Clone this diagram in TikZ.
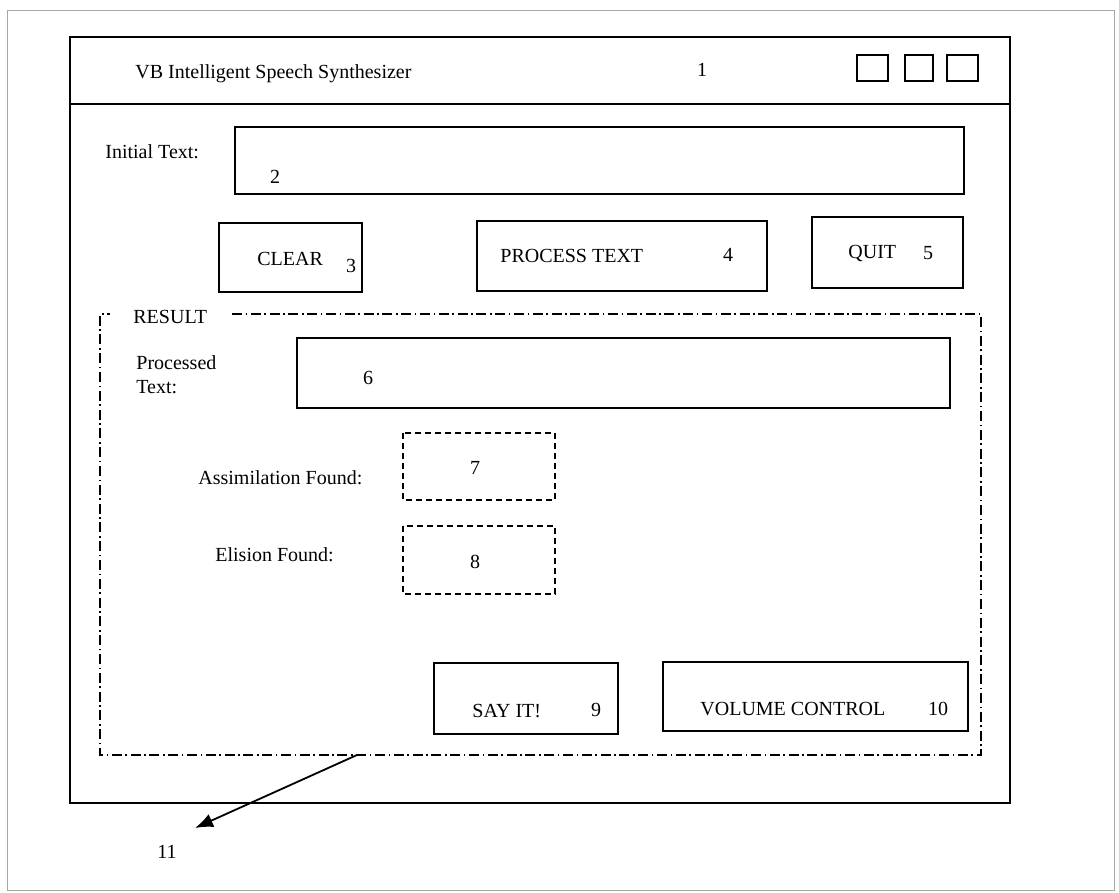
\documentclass[tikz,border=0pt]{standalone}
\usepackage{fontspec}
\setmainfont{Liberation Serif}
\usetikzlibrary{arrows.meta}

\tikzset{
  winline/.style={line width=1.2pt},
  btnbox/.style={line width=1pt},
  dashbox/.style={line width=1pt, dash pattern=on 3pt off 2pt},
  dashdot/.style={line width=0.9pt, dash pattern=on 5pt off 1.8pt on 0.8pt off 1.8pt},
  lbl/.style={anchor=base west, inner sep=0pt},
  num/.style={inner sep=0pt},
}

\begin{document}
\begin{tikzpicture}[x=0.5pt, y=-0.5pt]
    \useasboundingbox (0,0) rectangle (1119,893);

    % Page frame
    \draw[gray!70, line width=0.5pt] (7,11) rectangle (1114,890);

    % Window and title bar
    \draw[winline] (70,37) rectangle (1010,803);
    \draw[winline] (70,104) -- (1010,104);
    \node[lbl] (title) at (135,79) {VB Intelligent Speech Synthesizer};
    \node[num] (n1) at (702,70) {1};
    \foreach \x/\w in {857/31, 905/28, 947/31}
        \draw[line width=1.4pt] (\x,55) rectangle ++(\w,26);

    % Initial text
    \node[lbl] (initlbl) at (105,159) {Initial Text:};
    \draw[btnbox] (235,127) rectangle (964,194);
    \node[num] (n2) at (275,177) {2};

    % Buttons
    \draw[btnbox] (219,223) rectangle (362,292);
    \node[lbl] (clear) at (257,266) {CLEAR};
    \node[num] (n3) at (351,266) {3};
    \draw[btnbox] (477,221) rectangle (767,291);
    \node[lbl] (process) at (500,263) {PROCESS TEXT};
    \node[num] (n4) at (728,255) {4};
    \draw[btnbox] (812,217) rectangle (963,288);
    \node[lbl] (quit) at (848,259) {QUIT};
    \node[num] (n5) at (928,253) {5};

    % Result group
    \draw[dashdot] (232,314) -- (981,314) -- (981,755) -- (100,755) -- (100,314) -- (110,314);
    \node[lbl] (result) at (133,323) {RESULT};
    \node[lbl, anchor=west, align=left] (proclbl) at (136,375) {Processed\\Text:};
    \draw[btnbox] (297,338) rectangle (950,408);
    \node[num] (n6) at (368,378) {6};

    % Found boxes
    \node[lbl] (assim) at (198,484) {Assimilation Found:};
    \draw[dashbox] (403,433) rectangle (555,500);
    \node[num] (n7) at (475,468) {7};
    \node[lbl] (elision) at (215,561) {Elision Found:};
    \draw[dashbox] (403,526) rectangle (555,594);
    \node[num] (n8) at (475,562) {8};

    % Bottom buttons
    \draw[btnbox] (434,663) rectangle (618,734);
    \node[lbl] (sayit) at (472,717) {SAY IT!};
    \node[num] (n9) at (596,710) {9};
    \draw[btnbox] (663,662) rectangle (968,731);
    \node[lbl] (volume) at (700,715) {VOLUME CONTROL};
    \node[num] (n10) at (938,709) {10};

    % Pointer
    \coordinate (arrstart) at (357,755);
    \coordinate (arrtip) at (195,828);
    \node[num] (n11) at (167,852) {11};
    \draw[line width=0.9pt, -{Latex[length=9pt, width=7pt]}] (arrstart) -- (arrtip);
\end{tikzpicture}
\end{document}
